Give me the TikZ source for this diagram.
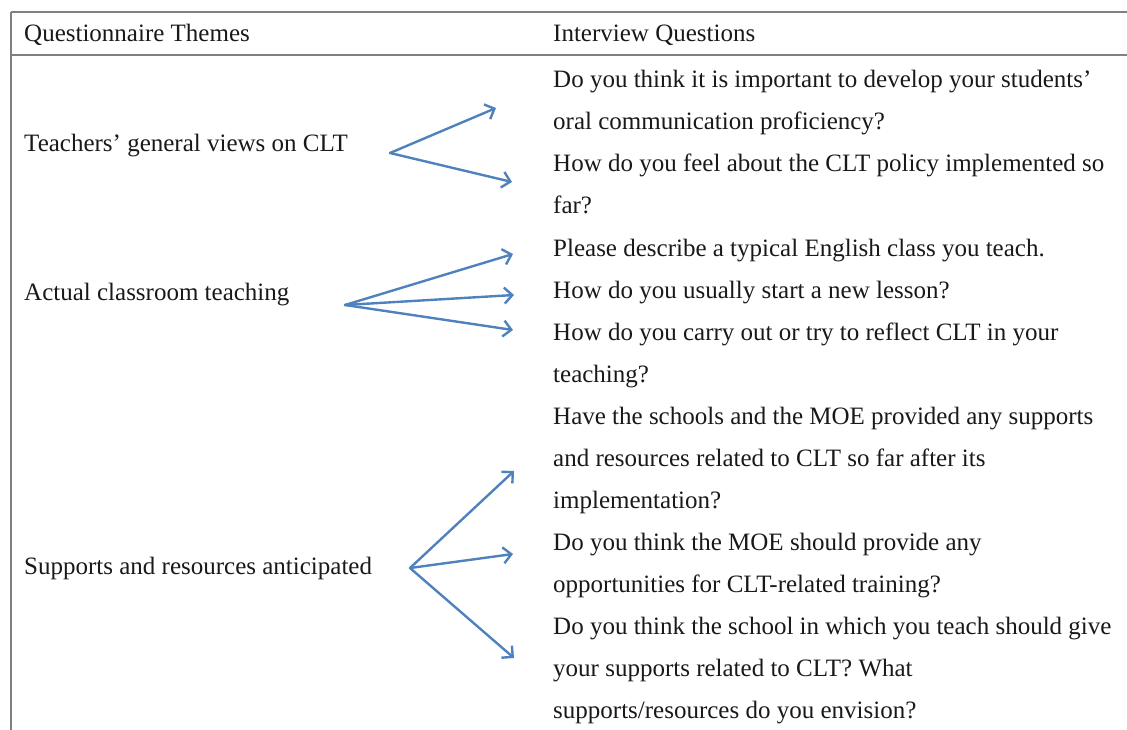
\documentclass[tikz,border=0pt]{standalone}
\usepackage{fontspec}
\setmainfont{Liberation Serif}
\usetikzlibrary{arrows.meta}
\definecolor{arrblue}{RGB}{79,129,189}
\definecolor{rulegray}{RGB}{128,128,128}
\definecolor{ink}{RGB}{25,25,25}
\begin{document}
\begin{tikzpicture}[x=1pt,y=-1pt,
  txt/.style={anchor=base west, inner sep=0pt, text=ink, font=\fontsize{25}{42}\selectfont, align=left},
  conn/.style={draw=arrblue, line width=2.4pt, line cap=round, -{Straight Barb[length=8pt,width=16pt,line width=2.4pt]}},
  rulel/.style={draw=rulegray, line width=1.6pt}]
\useasboundingbox (0,0) rectangle (1127,730);
% table rules
\draw[rulel] (11,12) -- (1127,12);
\draw[rulel] (11,55) -- (1127,55);
\draw[rulel] (11,12) -- (11,730);
% headers
\node[txt] (h1) at (24,42) {Questionnaire Themes};
\node[txt] (h2) at (553,42) {Interview Questions};
% themes
\node[txt] (t1) at (24,152) {Teachers' general views on CLT};
\node[txt] (t2) at (24,300) {Actual classroom teaching};
\node[txt] (t3) at (24,574) {Supports and resources anticipated};
% questions (anchor = baseline of the last line)
\node[txt] (q1) at (553,130) {Do you think it is important to develop your students'\\oral communication proficiency?};
\node[txt] (q2) at (553,214) {How do you feel about the CLT policy implemented so\\far?};
\node[txt] (q3) at (553,256) {Please describe a typical English class you teach.};
\node[txt] (q4) at (553,298) {How do you usually start a new lesson?};
\node[txt] (q5) at (553,382) {How do you carry out or try to reflect CLT in your\\teaching?};
\node[txt] (q6) at (553,508) {Have the schools and the MOE provided any supports\\and resources related to CLT so far after its\\implementation?};
\node[txt] (q7) at (553,592) {Do you think the MOE should provide any\\opportunities for CLT-related training?};
\node[txt] (q8) at (553,718) {Do you think the school in which you teach should give\\your supports related to CLT? What\\supports/resources do you envision?};
% arrow origins and ends
\coordinate (o1) at (390,153);
\coordinate (o2) at (345,305);
\coordinate (o3) at (410,568);
\coordinate (e1) at (496,108);
\coordinate (e2) at (512,182);
\coordinate (e3) at (513,254);
\coordinate (e4) at (514,295);
\coordinate (e5) at (513,330);
\coordinate (e6) at (514,471);
\coordinate (e7) at (513,554);
\coordinate (e8) at (514,658);
\draw[conn] (o1) -- (e1);
\draw[conn] (o1) -- (e2);
\draw[conn] (o2) -- (e3);
\draw[conn] (o2) -- (e4);
\draw[conn] (o2) -- (e5);
\draw[conn] (o3) -- (e6);
\draw[conn] (o3) -- (e7);
\draw[conn] (o3) -- (e8);
\end{tikzpicture}
\end{document}
